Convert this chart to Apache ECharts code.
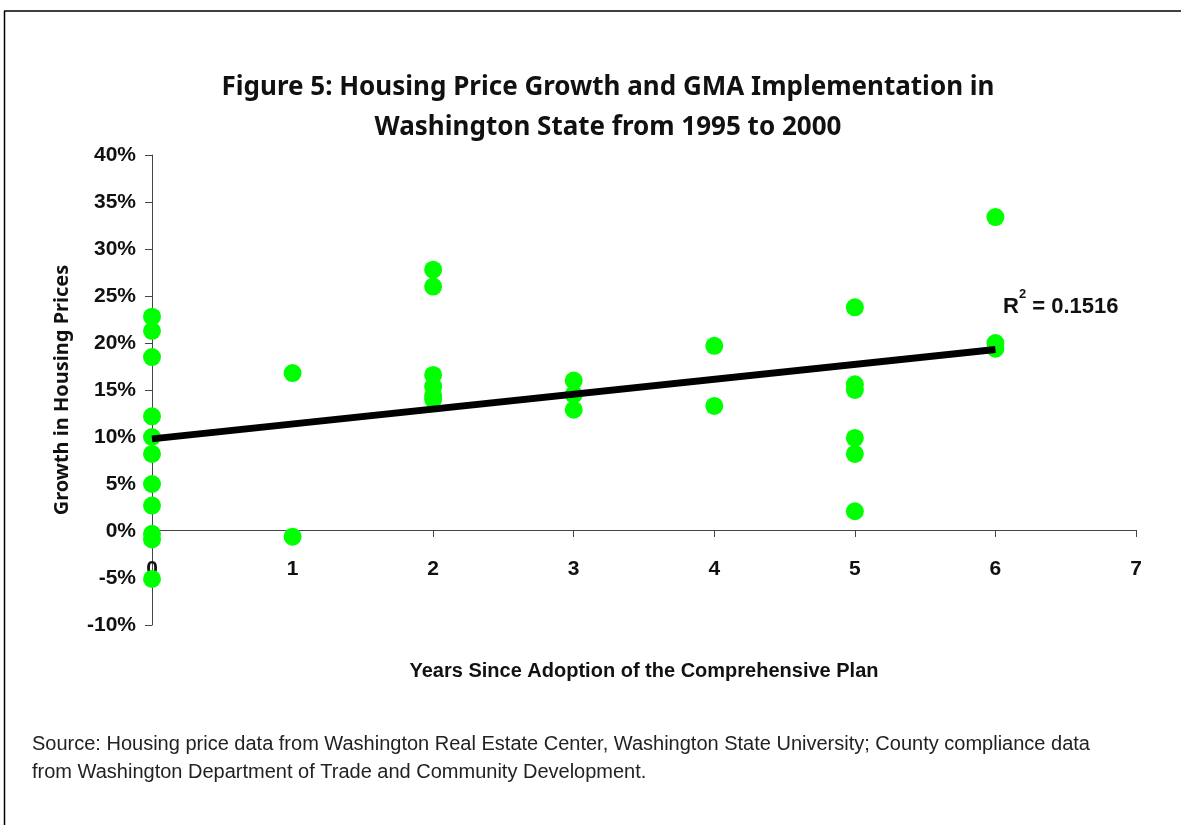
<!DOCTYPE html>
<html>
<head>
<meta charset="utf-8">
<script src="https://cdn.jsdelivr.net/npm/echarts@6/dist/echarts.min.js"></script>
<style>
  html, body { margin: 0; padding: 0; background: #fff; }
  #chart { width: 1181px; height: 825px; }
</style>
</head>
<body>
<div id="chart"></div>
<script>
// years since adoption of the comprehensive plan, growth in housing prices (%)
const years = [0, 0, 0, 0, 0, 0, 0, 0, 0, 0, 0,
               1, 1,
               2, 2, 2, 2, 2, 2,
               3, 3, 3,
               4, 4,
               5, 5, 5, 5, 5, 5,
               6, 6, 6]
const growth = [22.8, 21.3, 18.5, 12.2, 10.0, 8.2, 5.0, 2.7, -0.3, -0.9, -5.1,
                16.8, -0.6,
                27.8, 26.0, 16.6, 15.4, 14.4, 14.0,
                16.0, 14.5, 12.9,
                19.7, 13.3,
                23.8, 15.6, 15.0, 9.9, 8.2, 2.1,
                33.4, 20.0, 19.4]
const trendX = [0, 6]
const trendY = [9.8, 19.3]
const rSquared = '0.1516'

const sans = '"Liberation Sans", Arial, sans-serif'

const chart = echarts.init(document.getElementById('chart'))
chart.setOption({
    animation: false,
    backgroundColor: '#fff',
    title: {
        text: 'Figure 5: Housing Price Growth and GMA Implementation in\nWashington State from 1995 to 2000',
        left: 603,
        top: 63,
        textAlign: 'center',
        textStyle: {
            fontFamily: '"Noto Sans", Arial, sans-serif',
            fontWeight: 'bold',
            fontSize: 26,
            lineHeight: 40,
            color: '#111'
        }
    },
    grid: {
        left: 152,
        right: 45,
        top: 155,
        bottom: 200
    },
    xAxis: {
        type: 'value',
        min: 0,
        max: 7,
        interval: 1,
        // axis crosses at 0% (95px above the bottom of the grid)
        offset: -95,
        name: 'Years Since Adoption of the Comprehensive Plan',
        nameLocation: 'middle',
        nameGap: 131,
        nameTextStyle: {
            fontFamily: sans,
            fontWeight: 'bold',
            fontSize: 20,
            color: '#111'
        },
        axisLine: { lineStyle: { color: '#444', width: 1 } },
        axisTick: { show: true, length: 7, lineStyle: { color: '#444' } },
        axisLabel: {
            margin: 29,
            fontFamily: sans,
            fontWeight: 'bold',
            fontSize: 21,
            color: '#111'
        },
        splitLine: { show: false }
    },
    yAxis: {
        type: 'value',
        min: -10,
        max: 40,
        interval: 5,
        name: 'Growth in Housing Prices',
        nameLocation: 'middle',
        nameGap: 80,
        nameTextStyle: {
            fontFamily: '"Noto Sans", Arial, sans-serif',
            fontWeight: 'bold',
            fontSize: 20,
            color: '#111'
        },
        axisLine: { show: true, lineStyle: { color: '#444', width: 1 } },
        axisTick: { show: true, length: 7, lineStyle: { color: '#444' } },
        axisLabel: {
            formatter: '{value}%',
            margin: 16,
            fontFamily: sans,
            fontWeight: 'bold',
            fontSize: 21,
            color: '#111'
        },
        splitLine: { show: false }
    },
    series: [
        {
            type: 'scatter',
            data: years.map((x, i) => [x, growth[i]]),
            symbol: 'circle',
            symbolSize: 18,
            itemStyle: { color: '#00ff00', opacity: 1 },
            z: 2
        },
        {
            type: 'line',
            data: trendX.map((x, i) => [x, trendY[i]]),
            showSymbol: false,
            lineStyle: { color: '#000', width: 7 },
            z: 3
        }
    ],
    graphic: [
        {
            type: 'line',
            shape: { x1: 4, y1: 11, x2: 1181, y2: 11 },
            style: { stroke: '#000', lineWidth: 1.5 }
        },
        {
            type: 'line',
            shape: { x1: 4.5, y1: 11, x2: 4.5, y2: 825 },
            style: { stroke: '#000', lineWidth: 1.5 }
        },
        {
            type: 'text',
            left: 1003,
            top: 288,
            style: {
                text: '{b|R}{s|2}{b| = ' + rSquared + '}',
                rich: {
                    b: { fontFamily: sans, fontWeight: 'bold', fontSize: 22, fill: '#111', verticalAlign: 'bottom', lineHeight: 30 },
                    s: { fontFamily: sans, fontWeight: 'bold', fontSize: 13, fill: '#111', verticalAlign: 'top', lineHeight: 30, padding: [0, 0, 12, 0] }
                }
            }
        },
        {
            type: 'text',
            left: 32,
            top: 730,
            style: {
                text: 'Source: Housing price data from Washington Real Estate Center, Washington State University; County compliance data\nfrom Washington Department of Trade and Community Development.',
                fontFamily: sans,
                fontSize: 20,
                lineHeight: 28,
                fill: '#222'
            }
        }
    ]
})
</script>
</body>
</html>
